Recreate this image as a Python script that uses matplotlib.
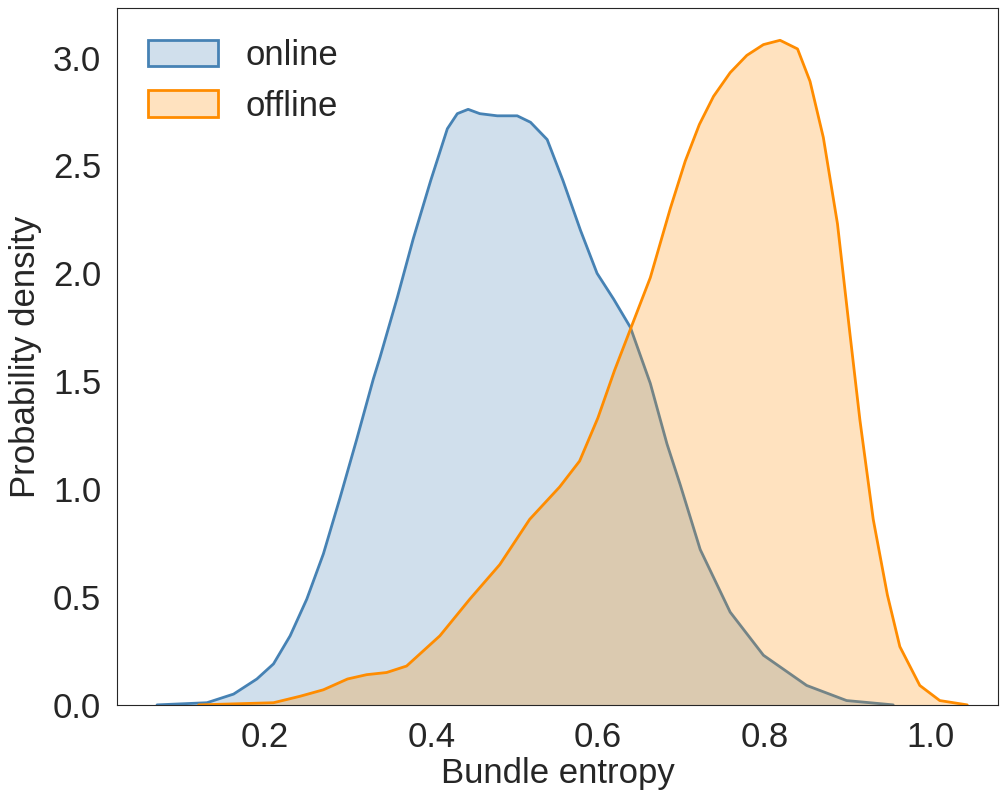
import matplotlib
matplotlib.use('Agg')
import matplotlib.pyplot as plt
import seaborn as sns
from matplotlib.patches import Patch

sns.set_style('white')
plt.rcParams['font.family'] = ['Arial', 'Liberation Sans', 'DejaVu Sans']

# density curves (x = bundle entropy, y = density)
online_x = [0.07, 0.13, 0.162, 0.19, 0.21, 0.23, 0.25, 0.27, 0.29, 0.31,
            0.33, 0.338, 0.359, 0.378, 0.399, 0.419, 0.431, 0.444, 0.458, 0.479,
            0.503, 0.519, 0.539, 0.558, 0.579, 0.599, 0.619, 0.639, 0.663, 0.683,
            0.699, 0.723, 0.759, 0.799, 0.851, 0.899, 0.955]
online_y = [0.0, 0.01, 0.05, 0.12, 0.19, 0.32, 0.49, 0.70, 0.96, 1.23,
            1.51, 1.61, 1.89, 2.16, 2.43, 2.67, 2.74, 2.76, 2.74, 2.73,
            2.73, 2.70, 2.62, 2.43, 2.20, 2.00, 1.88, 1.75, 1.49, 1.21,
            1.02, 0.72, 0.43, 0.23, 0.09, 0.02, 0.0]

offline_x = [0.12, 0.21, 0.242, 0.27, 0.299, 0.322, 0.346, 0.37, 0.39, 0.41,
             0.446, 0.482, 0.518, 0.554, 0.578, 0.60, 0.62, 0.639, 0.663, 0.687,
             0.705, 0.722, 0.739, 0.759, 0.779, 0.799, 0.819, 0.840, 0.855, 0.871,
             0.888, 0.903, 0.915, 0.931, 0.948, 0.963, 0.987, 1.011, 1.044]
offline_y = [0.0, 0.01, 0.04, 0.07, 0.12, 0.14, 0.15, 0.18, 0.25, 0.32,
             0.49, 0.65, 0.86, 1.01, 1.13, 1.33, 1.55, 1.74, 1.98, 2.30,
             2.52, 2.69, 2.82, 2.93, 3.01, 3.06, 3.08, 3.04, 2.89, 2.63,
             2.23, 1.72, 1.32, 0.86, 0.51, 0.27, 0.09, 0.02, 0.0]

series = [('online', online_x, online_y, 'steelblue'),
          ('offline', offline_x, offline_y, 'darkorange')]

fig = plt.figure(figsize=(10.01, 7.92), dpi=100)
ax = fig.add_axes([0.117, 0.11, 0.88, 0.88])

handles = []
z = 1
for name, xs, ys, col in series:
    # each layer: fill then outline, so later fills sit over earlier outlines
    ax.fill_between(xs, ys, 0, facecolor=col, alpha=0.25, linewidth=0, zorder=z)
    ax.plot(xs, ys, color=col, linewidth=2, zorder=z + 0.5)
    z += 1
    handles.append(Patch(facecolor=matplotlib.colors.to_rgba(col, 0.25),
                         edgecolor=col, linewidth=2, label=name))

ax.set_xlim(0.022, 1.081)
ax.set_ylim(0, 3.23)
ax.set_xticks([0.2, 0.4, 0.6, 0.8, 1.0])
ax.set_yticks([0.0, 0.5, 1.0, 1.5, 2.0, 2.5, 3.0])
ax.tick_params(labelsize=25, pad=8)
ax.set_xlabel('Bundle entropy', fontsize=25, labelpad=2)
ax.set_ylabel('Probability density', fontsize=25, labelpad=8)
ax.legend(handles=handles, loc='upper left', fontsize=25, frameon=False,
          handlelength=2.0, handleheight=0.8, labelspacing=0.5,
          borderaxespad=0.5, handletextpad=0.8)

fig.savefig('out.png', dpi=100)
